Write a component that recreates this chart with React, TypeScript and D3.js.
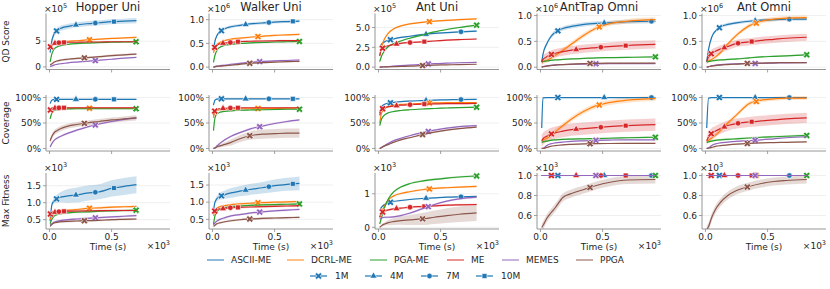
import React from "react";
import * as d3 from "d3";

// methods, colours, environments
const methods = ["ASCII-ME", "DCRL-ME", "PGA-ME", "ME", "MEMES", "PPGA"];
const colors = ["#1f77b4", "#ff7f0e", "#2ca02c", "#d62728", "#9467bd", "#8c564b"];
const envs = ["Hopper Uni", "Walker Uni", "Ant Uni", "AntTrap Omni", "Ant Omni"];
const metrics = ["QD Score", "Coverage", "Max Fitness"];
const budgets = ["1M", "4M", "7M", "10M"];

// ---- Hopper Uni ----
const hopperTime = [5, 20, 35, 60, 100, 150, 220, 300, 400, 500, 600, 700];
const hopperQD = [
  [2.8, 5.2, 6.3, 7.1, 7.6, 7.9, 8.2, 8.4, 8.6, 8.8, 8.9, 9.0],
  [3.5, 4.2, 4.5, 4.7, 4.85, 5.0, 5.1, 5.25, 5.4, 5.55, 5.65, 5.75],
  [1.0, 2.6, 3.4, 3.9, 4.2, 4.4, 4.55, 4.65, 4.75, 4.8, 4.85, 4.9],
  [3.8, 4.35, 4.55, 4.7, 4.75, 4.8, 4.8, 4.85, 4.85, 4.9, 4.9, 4.9],
  [0.05, 0.2, 0.35, 0.5, 0.65, 0.8, 0.95, 1.1, 1.3, 1.5, 1.7, 1.85],
  [0.4, 0.6, 0.9, 1.15, 1.35, 1.5, 1.65, 1.8, 2.0, 2.2, 2.35, 2.5],
];
const hopperQDBand = [0.5, 0.15, 0.1, 0.1, 0.08, 0.2];
const hopperCov = [
  [88, 95, 96, 96.5, 96.5, 96.5, 96.5, 96.5, 96.5, 96.5, 96.5, 96.5],
  [74, 77, 78, 78.5, 79, 79, 79, 79, 79, 79, 79, 79],
  [58, 70, 74, 76, 77, 77.5, 78, 78, 78, 78, 78, 78],
  [75, 78, 79, 79.5, 80, 80, 80, 80, 80, 80, 80, 80],
  [3, 10, 15, 20, 25, 30, 36, 42, 48, 53, 57, 60],
  [15, 24, 30, 35, 40, 44, 47, 50, 53, 56, 58, 60],
];
const hopperCovBand = [1, 1, 1, 1, 2, 5];
const hopperFit = [
  [0.45, 0.95, 1.05, 1.12, 1.17, 1.2, 1.23, 1.28, 1.32, 1.42, 1.48, 1.53],
  [0.5, 0.62, 0.68, 0.72, 0.75, 0.78, 0.8, 0.83, 0.85, 0.87, 0.88, 0.89],
  [0.38, 0.52, 0.6, 0.65, 0.68, 0.7, 0.72, 0.73, 0.75, 0.76, 0.77, 0.78],
  [0.66, 0.69, 0.71, 0.73, 0.745, 0.75, 0.755, 0.76, 0.765, 0.77, 0.77, 0.77],
  [0.35, 0.38, 0.42, 0.45, 0.48, 0.5, 0.52, 0.54, 0.56, 0.58, 0.6, 0.62],
  [0.3, 0.36, 0.4, 0.42, 0.44, 0.45, 0.46, 0.47, 0.48, 0.5, 0.51, 0.52],
];
const hopperFitBand = [
  [0.03, 0.05, 0.08, 0.12, 0.16, 0.2, 0.22, 0.22, 0.22, 0.24, 0.25, 0.25],
  0.03, 0.03, 0.03, 0.03, 0.03,
];
const hopperMarks = [[57, 213, 369, 519], [322], [697], [8, 44, 76, 117], [369], [281]];

// ---- Walker Uni ----
const walkerTime = [8, 20, 35, 60, 100, 150, 220, 300, 400, 500, 600, 700];
const walkerQD = [
  [0.35, 0.55, 0.66, 0.75, 0.81, 0.85, 0.88, 0.91, 0.93, 0.95, 0.96, 0.97],
  [0.3, 0.4, 0.47, 0.52, 0.56, 0.59, 0.61, 0.63, 0.65, 0.67, 0.68, 0.69],
  [0.1, 0.25, 0.35, 0.42, 0.46, 0.48, 0.5, 0.51, 0.52, 0.53, 0.535, 0.54],
  [0.35, 0.43, 0.46, 0.49, 0.51, 0.52, 0.54, 0.545, 0.55, 0.555, 0.56, 0.56],
  [0.0, 0.01, 0.02, 0.03, 0.04, 0.06, 0.08, 0.1, 0.12, 0.13, 0.14, 0.15],
  [0.0, 0.01, 0.015, 0.02, 0.03, 0.04, 0.06, 0.08, 0.095, 0.105, 0.115, 0.12],
];
const walkerQDBand = [0.03, 0.02, 0.015, 0.015, 0.02, 0.015];
const walkerCov = [
  [85, 95, 97, 97.5, 97.5, 97.5, 97.5, 97.5, 97.5, 97.5, 97.5, 97.5],
  [60, 72, 75, 76, 77, 77.5, 78, 78, 78.5, 78.5, 79, 79],
  [35, 60, 68, 71, 73, 74, 75, 75.5, 76, 76.5, 77, 77],
  [65, 75, 77, 78, 79, 79.5, 80, 80, 80, 80, 80, 80],
  [0, 1, 5, 10, 17, 24, 31, 38, 44, 49, 53, 56],
  [0, 1, 3, 5, 8, 12, 19, 25, 28, 29, 30, 30],
];
const walkerCovBand = [1, 1, 1.5, 1, 2, [0, 1, 2, 3, 4, 6, 7, 8, 9, 9, 9, 9]];
const walkerFit = [
  [0.75, 1.0, 1.1, 1.17, 1.22, 1.27, 1.32, 1.37, 1.42, 1.48, 1.52, 1.55],
  [0.6, 0.75, 0.82, 0.87, 0.9, 0.93, 0.95, 0.97, 0.99, 1.0, 1.01, 1.02],
  [0.35, 0.6, 0.72, 0.8, 0.84, 0.87, 0.89, 0.91, 0.92, 0.93, 0.94, 0.95],
  [0.7, 0.75, 0.78, 0.8, 0.82, 0.84, 0.85, 0.86, 0.87, 0.88, 0.89, 0.9],
  [0.35, 0.4, 0.45, 0.5, 0.55, 0.6, 0.64, 0.68, 0.72, 0.75, 0.77, 0.79],
  [0.3, 0.33, 0.37, 0.4, 0.43, 0.46, 0.49, 0.51, 0.53, 0.54, 0.55, 0.56],
];
const walkerFitBand = [
  [0.03, 0.05, 0.08, 0.1, 0.12, 0.14, 0.15, 0.16, 0.17, 0.18, 0.19, 0.2],
  0.03, 0.03, 0.03, 0.03, 0.03,
];
const walkerMarks = [[72, 267, 454, 647], [366], [700], [18, 85, 144, 205], [380], [300]];

// ---- Ant Uni ----
const antTime = [10, 25, 50, 80, 120, 180, 250, 350, 450, 550, 650, 790];
const antQD = [
  [2.5, 2.9, 3.2, 3.4, 3.55, 3.75, 3.9, 4.1, 4.25, 4.35, 4.45, 4.55],
  [1.5, 2.6, 3.6, 4.3, 4.8, 5.2, 5.45, 5.65, 5.8, 5.9, 6.0, 6.1],
  [0.7, 1.4, 2.1, 2.6, 2.95, 3.3, 3.65, 4.05, 4.45, 4.75, 5.0, 5.3],
  [1.4, 2.3, 2.55, 2.7, 2.85, 3.0, 3.1, 3.2, 3.3, 3.4, 3.48, 3.55],
  [0, 0.02, 0.05, 0.08, 0.12, 0.18, 0.25, 0.35, 0.45, 0.5, 0.55, 0.6],
  [0, 0.01, 0.02, 0.04, 0.06, 0.09, 0.12, 0.19, 0.25, 0.29, 0.32, 0.36],
];
const antQDBand = [0.1, 0.1, 0.1, 0.1, 0.05, 0.05];
const antCov = [
  [70, 82, 87, 89, 90.5, 92, 93, 94, 95, 95.5, 96, 96.5],
  [50, 70, 78, 82, 84.5, 86.5, 87.5, 88.5, 89.5, 90, 90, 90],
  [45, 58, 66, 70, 72.5, 74.5, 76, 77.5, 78.5, 79.5, 80.3, 81],
  [65, 77, 80, 82, 83, 85, 86, 87, 87.5, 88, 88, 88.5],
  [0, 2, 6, 10, 15, 20, 25, 31, 36, 40, 43, 45],
  [0, 2, 5, 8, 12, 17, 21, 27, 32, 36, 39, 42],
];
const antCovBand = [1, 1, 1, 1, 1.5, 1.5];
const antFit = [
  [0.5, 0.6, 0.68, 0.73, 0.77, 0.8, 0.83, 0.86, 0.88, 0.9, 0.91, 0.92],
  [0.3, 0.45, 0.65, 0.82, 0.93, 1.01, 1.06, 1.12, 1.16, 1.18, 1.2, 1.22],
  [0.1, 0.3, 0.6, 0.85, 1.05, 1.2, 1.3, 1.38, 1.43, 1.47, 1.5, 1.53],
  [0.3, 0.44, 0.49, 0.52, 0.55, 0.57, 0.6, 0.62, 0.64, 0.66, 0.67, 0.68],
  [0.25, 0.28, 0.3, 0.3, 0.31, 0.35, 0.42, 0.55, 0.68, 0.78, 0.85, 0.9],
  [0, 0.05, 0.1, 0.14, 0.17, 0.2, 0.22, 0.25, 0.3, 0.35, 0.39, 0.43],
];
const antFitBand = [
  0.02, 0.03, 0.03, 0.03, 0.03,
  [0.01, 0.03, 0.05, 0.08, 0.1, 0.12, 0.15, 0.18, 0.2, 0.22, 0.23, 0.24],
];
const antMarks = [[96, 383, 664], [410], [790], [33, 145, 254, 369], [401], [355]];

// ---- AntTrap Omni ----
const trapTime = [10, 20, 50, 80, 120, 180, 250, 350, 450, 550, 700, 925];
const trapQD = [
  [0.1, 0.25, 0.45, 0.58, 0.68, 0.75, 0.79, 0.83, 0.85, 0.86, 0.88, 0.89],
  [0.1, 0.11, 0.13, 0.17, 0.23, 0.33, 0.45, 0.62, 0.76, 0.84, 0.89, 0.92],
  [0.1, 0.11, 0.12, 0.13, 0.14, 0.15, 0.16, 0.17, 0.18, 0.185, 0.19, 0.2],
  [0.1, 0.15, 0.2, 0.24, 0.27, 0.3, 0.33, 0.36, 0.38, 0.4, 0.42, 0.44],
  [0, 0.01, 0.025, 0.035, 0.045, 0.05, 0.055, 0.06, 0.065, 0.067, 0.07, 0.07],
  [0, 0.01, 0.02, 0.03, 0.04, 0.05, 0.06, 0.07, 0.075, 0.078, 0.08, 0.08],
];
const trapQDBand = [0.04, 0.045, 0.01, 0.08, 0.005, 0.005];
const trapCov = [
  [40, 99.5, 100, 100, 100, 100, 100, 100, 100, 100, 100, 100],
  [14, 16, 20, 25, 33, 45, 58, 73, 84, 90, 95, 98],
  [12, 13, 14.5, 16, 17, 18, 18.5, 19, 19.5, 20, 21, 22],
  [15, 19, 24, 28, 31, 34, 37, 39, 41, 43, 45, 47],
  [0, 0, 6, 9, 11, 12.5, 14, 15, 16, 16.5, 17, 17],
  [0, 0, 2, 4, 5.5, 7, 8, 9, 9.5, 9.7, 10, 10],
];
const trapCovBand = [0.5, 5, 1.5, 12, 1, 1];
const trapFit = [
  [1, 1, 1, 1, 1, 1, 1, 1, 1, 1, 1, 1],
  [1, 1, 1, 1, 1, 1, 1, 1, 1, 1, 1, 1],
  [1, 1, 1, 1, 1, 1, 1, 1, 1, 1, 1, 1],
  [1, 1, 1, 1, 1, 1, 1, 1, 1, 1, 1, 1],
  [1, 1, 1, 1, 1, 1, 1, 1, 1, 1, 1, 1],
  [0.48, 0.5, 0.57, 0.62, 0.68, 0.78, 0.82, 0.86, 0.9, 0.93, 0.955, 0.96],
];
const trapFitBand = [0, 0, 0, 0, 0, 0.04];
const trapMarks = [[140, 513, 893], [473], [925], [88, 287, 486, 686], [446], [399]];

// ---- Ant Omni ----
const omniTime = [10, 25, 50, 80, 120, 180, 250, 350, 450, 550, 650, 815];
const omniQD = [
  [0.1, 0.35, 0.58, 0.7, 0.78, 0.83, 0.86, 0.89, 0.91, 0.92, 0.93, 0.93],
  [0.1, 0.12, 0.15, 0.2, 0.28, 0.45, 0.62, 0.8, 0.89, 0.93, 0.95, 0.96],
  [0.1, 0.11, 0.12, 0.13, 0.14, 0.15, 0.16, 0.18, 0.2, 0.21, 0.22, 0.24],
  [0.12, 0.2, 0.27, 0.31, 0.35, 0.4, 0.46, 0.49, 0.52, 0.54, 0.56, 0.58],
  [0, 0.01, 0.03, 0.04, 0.05, 0.06, 0.065, 0.07, 0.075, 0.08, 0.085, 0.09],
  [0, 0.01, 0.02, 0.03, 0.04, 0.05, 0.06, 0.075, 0.08, 0.085, 0.088, 0.09],
];
const omniQDBand = [0.03, 0.04, 0.015, 0.07, 0.005, 0.005];
const omniCov = [
  [40, 99, 100, 100, 100, 100, 100, 100, 100, 100, 100, 100],
  [14, 16, 20, 26, 35, 50, 66, 88, 95, 97.5, 99, 99],
  [12, 13, 14.5, 16, 17, 18, 19, 20.5, 22, 23, 24, 25.5],
  [15, 23, 30, 34, 39, 45, 49, 52, 54, 56, 58, 60],
  [0, 1, 6, 9, 11, 12.5, 14, 15.5, 17, 19, 21, 23],
  [0, 0.5, 2, 4, 5.5, 7, 8.5, 10, 11, 11.5, 12, 13],
];
const omniCovBand = [0.5, 4, 2, 10, 1, 1];
const omniFit = [
  [1, 1, 1, 1, 1, 1, 1, 1, 1, 1, 1, 1],
  [1, 1, 1, 1, 1, 1, 1, 1, 1, 1, 1, 1],
  [1, 1, 1, 1, 1, 1, 1, 1, 1, 1, 1, 1],
  [1, 1, 1, 1, 1, 1, 1, 1, 1, 1, 1, 1],
  [1, 1, 1, 1, 1, 1, 1, 1, 1, 1, 1, 1],
  [0.46, 0.49, 0.58, 0.66, 0.73, 0.8, 0.85, 0.89, 0.92, 0.94, 0.95, 0.96],
];
const omniFitBand = [0, 0, 0, 0, 0, 0.04];
const omniMarks = [[112, 400, 675], [409], [815], [46, 152, 262, 372], [400], [337]];

// axis settings per panel: [domain, ticks, decimals, exponent]
const qdAxes = [
  { dom: [-0.5, 10.4], ticks: [0, 5], dec: 0, exp: 5 },
  { dom: [-0.05, 1.13], ticks: [0, 0.5, 1], dec: 1, exp: 6 },
  { dom: [-0.3, 6.77], ticks: [0, 2.5, 5], dec: 1, exp: 5 },
  { dom: [-0.045, 1.04], ticks: [0, 0.5, 1], dec: 1, exp: 6 },
  { dom: [-0.045, 1.04], ticks: [0, 0.5, 1], dec: 1, exp: 6 },
];
const covAxis = { dom: [-5, 105], ticks: [0, 50, 100], dec: 0, exp: 0, pct: true };
const fitAxes = [
  { dom: [0.225, 1.875], ticks: [0.5, 1, 1.5], dec: 1, exp: 3 },
  { dom: [0.22, 1.85], ticks: [0.5, 1, 1.5], dec: 1, exp: 3 },
  { dom: [-0.05, 1.62], ticks: [0, 1], dec: 0, exp: 3 },
  { dom: [0.465, 1.025], ticks: [0.6, 0.8, 1], dec: 1, exp: 3 },
  { dom: [0.465, 1.025], ticks: [0.6, 0.8, 1], dec: 1, exp: 3 },
];
const xTicks = [0, 500];

const envTimes = [hopperTime, walkerTime, antTime, trapTime, omniTime];
const envMarks = [hopperMarks, walkerMarks, antMarks, trapMarks, omniMarks];
const envValues = [
  [hopperQD, hopperCov, hopperFit],
  [walkerQD, walkerCov, walkerFit],
  [antQD, antCov, antFit],
  [trapQD, trapCov, trapFit],
  [omniQD, omniCov, omniFit],
];
const envBands = [
  [hopperQDBand, hopperCovBand, hopperFitBand],
  [walkerQDBand, walkerCovBand, walkerFitBand],
  [antQDBand, antCovBand, antFitBand],
  [trapQDBand, trapCovBand, trapFitBand],
  [omniQDBand, omniCovBand, omniFitBand],
];

// layout
const colLeft = [46, 209, 375, 537, 702];
const axW = 124;
const rowTop = [13.5, 95, 173];
const axH = 56;
const xDomain = [-28, 970];
const FONT = "DejaVu Sans, sans-serif";
const TXT = "#262626";
const SPINE = "#8a8a8a";

function valueAt(times: number[], vals: number[], t: number) {
  if (t <= times[0]) return vals[0];
  for (let i = 1; i < times.length; i++) {
    if (t <= times[i]) {
      const f = (t - times[i - 1]) / (times[i] - times[i - 1]);
      return vals[i - 1] + f * (vals[i] - vals[i - 1]);
    }
  }
  return vals[vals.length - 1];
}

const crossPath = d3.symbol().type(d3.symbolCross).size(30)() as string;
const triPath = d3.symbol().type(d3.symbolTriangle).size(22)() as string;
const circPath = d3.symbol().type(d3.symbolCircle).size(24)() as string;
const sqPath = d3.symbol().type(d3.symbolSquare).size(24)() as string;

function Marker({ k, cx, cy, color }: { k: number; cx: number; cy: number; color: string }) {
  const d = [crossPath, triPath, circPath, sqPath][k];
  const rot = k === 0 ? " rotate(45)" : "";
  return (
    <path d={d} transform={`translate(${cx},${cy})${rot}`} fill={color} stroke="#fff" strokeWidth={0.6} />
  );
}

function Offset({ x, y, exp, anchor }: { x: number; y: number; exp: number; anchor: string }) {
  return (
    <text x={x} y={y} fontSize={9} fill={TXT} textAnchor={anchor}>
      ×10<tspan dy={-4} fontSize={6.5}>{exp}</tspan>
    </text>
  );
}

function Panel({ row, col }: { row: number; col: number }) {
  const L = colLeft[col];
  const T = rowTop[row];
  const ax: any = row === 0 ? qdAxes[col] : row === 1 ? covAxis : fitAxes[col];
  const times = envTimes[col];
  const values = envValues[col][row];
  const bands = envBands[col][row];
  const marks = envMarks[col];
  const x = d3.scaleLinear().domain(xDomain).range([L, L + axW]);
  const y = d3.scaleLinear().domain(ax.dom).range([T + axH, T]);
  const clipId = `clip-${row}-${col}`;

  const line = d3
    .line<number>()
    .x((_, i) => x(times[i]))
    .y((v) => y(v))
    .curve(d3.curveMonotoneX);

  const bw = (b: any, i: number) => (Array.isArray(b) ? b[i] : b);

  return (
    <g>
      <defs>
        <clipPath id={clipId}>
          <rect x={L} y={T - 3} width={axW + 2} height={axH + 3} />
        </clipPath>
      </defs>
      {/* grid */}
      {ax.ticks.map((t: number) => (
        <line key={"g" + t} x1={L} x2={L + axW} y1={y(t)} y2={y(t)} stroke="#ebebeb" strokeWidth={0.8} />
      ))}
      {/* bands */}
      <g clipPath={`url(#${clipId})`}>
        {values.map((vals, m) => {
          const b = bands[m];
          const area = d3
            .area<number>()
            .x((_, i) => x(times[i]))
            .y0((v, i) => y(v - bw(b, i)))
            .y1((v, i) => y(v + bw(b, i)))
            .curve(d3.curveMonotoneX);
          return <path key={"b" + m} d={area(vals) as string} fill={colors[m]} opacity={0.22} />;
        })}
        {values.map((vals, m) => (
          <g key={"l" + m}>
            <path d={line(vals) as string} fill="none" stroke={colors[m]} strokeWidth={1.2} />
            {marks[m].map((t, k) => (
              <Marker key={k} k={k} cx={x(t)} cy={y(valueAt(times, vals, t))} color={colors[m]} />
            ))}
          </g>
        ))}
      </g>
      {/* spines */}
      <line x1={L} x2={L} y1={T} y2={T + axH} stroke={SPINE} strokeWidth={0.9} />
      <line x1={L} x2={L + axW} y1={T + axH} y2={T + axH} stroke={SPINE} strokeWidth={0.9} />
      {/* y ticks */}
      {ax.ticks.map((t: number) => (
        <g key={"y" + t}>
          <line x1={L - 3} x2={L} y1={y(t)} y2={y(t)} stroke={SPINE} strokeWidth={0.8} />
          <text x={L - 5} y={y(t) + 3.2} fontSize={9} fill={TXT} textAnchor="end">
            {ax.pct ? `${t}%` : t.toFixed(ax.dec)}
          </text>
        </g>
      ))}
      {/* x ticks */}
      {xTicks.map((t) => (
        <g key={"x" + t}>
          <line x1={x(t)} x2={x(t)} y1={T + axH} y2={T + axH + 3} stroke={SPINE} strokeWidth={0.8} />
          {row === 2 && (
            <text x={x(t)} y={T + axH + 11} fontSize={9} fill={TXT} textAnchor="middle">
              {(t / 1000).toFixed(1)}
            </text>
          )}
        </g>
      ))}
      {ax.exp > 0 && <Offset x={L - 2} y={T - 2} exp={ax.exp} anchor="start" />}
      {row === 0 && (
        <text x={L + axW / 2} y={11} fontSize={11.5} fill={TXT} textAnchor="middle">
          {envs[col]}
        </text>
      )}
      {row === 2 && (
        <>
          <text x={L + axW / 2} y={T + axH + 21} fontSize={9} fill={TXT} textAnchor="middle">
            Time (s)
          </text>
          <Offset x={L + axW} y={T + axH + 20} exp={3} anchor="end" />
        </>
      )}
    </g>
  );
}

// legend layout
const legend1X = [207, 287, 370, 447, 502, 576];
const legend2X = [310, 365, 421, 476];

export default function App() {
  return (
    <svg
      width={830}
      height={289}
      style={{ position: "absolute", left: 0, top: 0, background: "#fff" }}
      fontFamily={FONT}
    >
      {metrics.map((m, r) => (
        <text
          key={m}
          transform={`translate(9,${rowTop[r] + axH / 2}) rotate(-90)`}
          fontSize={9}
          fill={TXT}
          textAnchor="middle"
        >
          {m}
        </text>
      ))}
      {metrics.map((_, r) => envs.map((_, c) => <Panel key={r + "-" + c} row={r} col={c} />))}
      {methods.map((name, i) => (
        <g key={name}>
          <line x1={legend1X[i]} x2={legend1X[i] + 17} y1={260} y2={260} stroke={colors[i]} strokeWidth={1.8} opacity={0.55} />
          <text x={legend1X[i] + 24} y={263.2} fontSize={9} fill={TXT}>
            {name}
          </text>
        </g>
      ))}
      {budgets.map((name, k) => (
        <g key={name}>
          <line x1={legend2X[k]} x2={legend2X[k] + 17} y1={276} y2={276} stroke={colors[0]} strokeWidth={1.2} />
          <Marker k={k} cx={legend2X[k] + 8.5} cy={276} color={colors[0]} />
          <text x={legend2X[k] + 25} y={279.2} fontSize={9} fill={TXT}>
            {name}
          </text>
        </g>
      ))}
    </svg>
  );
}
